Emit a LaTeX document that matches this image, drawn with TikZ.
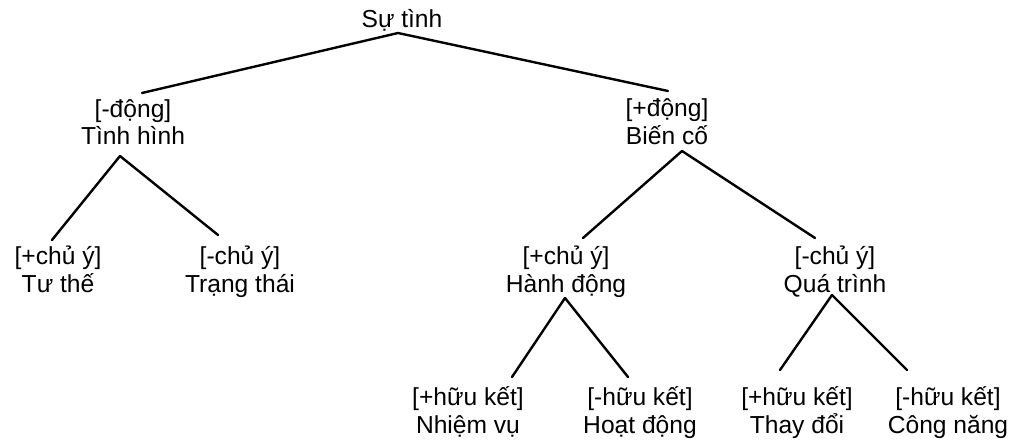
\documentclass[tikz,border=0pt]{standalone}
\usepackage{fontspec}
\setmainfont{Liberation Sans}
\usetikzlibrary{calc}
\begin{document}
\begin{tikzpicture}[x=1pt,y=-1pt,
  lbl/.style={anchor=base,align=center,inner sep=0pt,font=\fontsize{24.6}{28}\selectfont},
  edge/.style={line width=2.4pt,line cap=round,line join=round}]
\useasboundingbox (0,0) rectangle (1022,441);
\node[lbl] (root) at (402,28) {Sự tình};
\node[lbl] (A) at (133,145) {[-động]\\Tình hình};
\node[lbl] (B) at (667,144) {[+động]\\Biến cố};
\node[lbl] (C) at (58,292) {[+chủ ý]\\Tư thế};
\node[lbl] (D) at (240,292) {[-chủ ý]\\Trạng thái};
\node[lbl] (E) at (566,292) {[+chủ ý]\\Hành động};
\node[lbl] (F) at (835,292) {[-chủ ý]\\Quá trình};
\node[lbl] (G) at (468,433) {[+hữu kết]\\Nhiệm vụ};
\node[lbl] (H) at (640,433) {[-hữu kết]\\Hoạt động};
\node[lbl] (I) at (797,433) {[+hữu kết]\\Thay đổi};
\node[lbl] (J) at (948,433) {[-hữu kết]\\Công năng};
\draw[edge] ($(A.base)+(9,-52)$) -- ($(root.base)+(-4,5)$) -- ($(B.base)+(1,-53)$);
\draw[edge] ($(C.base)+(-6,-52)$) -- ($(A.base)+(-13,11)$) -- ($(D.base)+(-22,-57)$);
\draw[edge] ($(E.base)+(17,-54)$) -- ($(B.base)+(15,7)$) -- ($(F.base)+(-20,-54)$);
\draw[edge] ($(G.base)+(44,-56)$) -- ($(E.base)+(-1,6)$) -- ($(H.base)+(-12,-56)$);
\draw[edge] ($(I.base)+(-17,-63)$) -- ($(F.base)+(-3,3)$) -- ($(J.base)+(-41,-63)$);
\end{tikzpicture}
\end{document}
